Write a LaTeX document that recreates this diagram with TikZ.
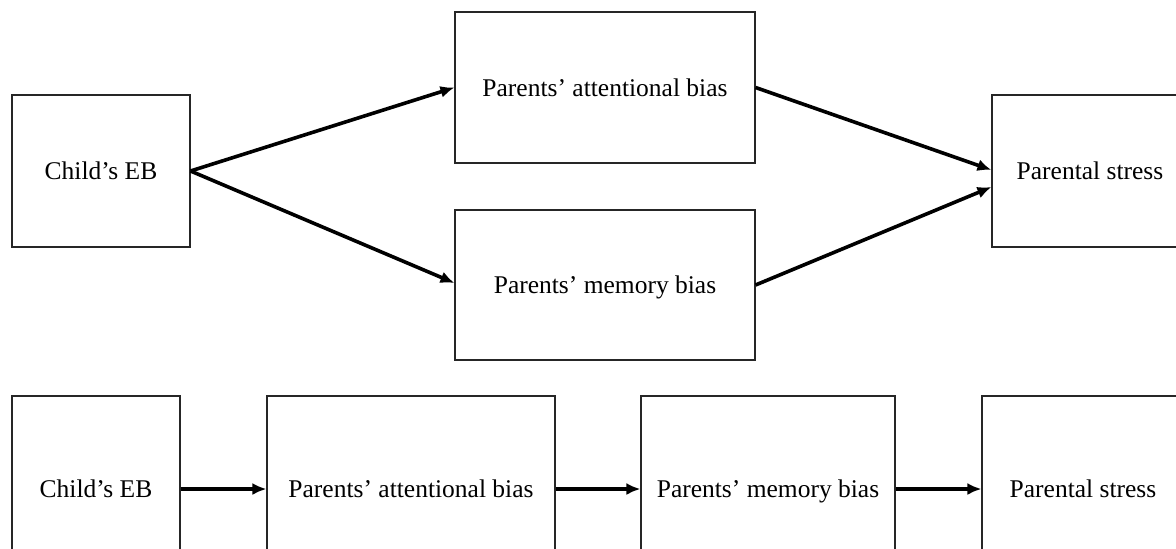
\documentclass[tikz,border=0pt]{standalone}
\usepackage{fontspec}
\setmainfont{Liberation Serif}
\usetikzlibrary{arrows.meta}
\begin{document}
\begin{tikzpicture}[x=1pt,y=-1pt,
  box/.style={draw=black!85,line width=1.1pt,inner sep=0pt,text height=17pt,text depth=0pt,font=\fontsize{25.5}{30}\selectfont},
  conn/.style={line width=3.6pt,-{Latex[length=14pt,width=12pt]}}]
\useasboundingbox (0,0) rectangle (1176,549);
\clip (0,0) rectangle (1176,549);
% top model
\node[box,minimum width=178pt,minimum height=152pt] (c1) at (101,171) {Child’s EB};
\node[box,minimum width=300pt,minimum height=151pt] (a1) at (605,87.5) {Parents’ attentional bias};
\node[box,minimum width=300pt,minimum height=150pt] (m1) at (605,285) {Parents’ memory bias};
\node[box,minimum width=196pt,minimum height=152pt] (p1) at (1090,171) {Parental stress};
\draw[conn] (c1.east) -- (a1.west);
\draw[conn] (c1.east) -- ([yshift=2pt]m1.west);
\draw[conn] (a1.east) -- ([yshift=1pt]p1.west);
\draw[conn] (m1.east) -- ([yshift=-16pt]p1.west);
% bottom model
\node[box,minimum width=168pt,minimum height=186pt] (c2) at (96,489) {Child’s EB};
\node[box,minimum width=288pt,minimum height=186pt] (a2) at (411,489) {Parents’ attentional bias};
\node[box,minimum width=254pt,minimum height=186pt] (m2) at (768,489) {Parents’ memory bias};
\node[box,minimum width=202pt,minimum height=186pt] (p2) at (1083,489) {Parental stress};
\draw[conn] (c2.east) -- (a2.west);
\draw[conn] (a2.east) -- (m2.west);
\draw[conn] (m2.east) -- (p2.west);
\end{tikzpicture}
\end{document}
